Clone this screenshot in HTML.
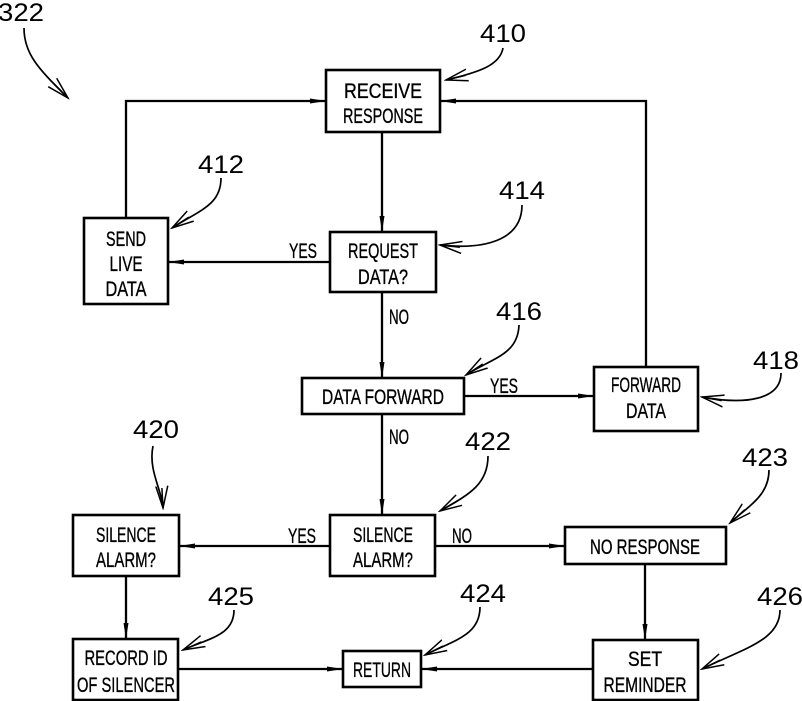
<!DOCTYPE html>
<html><head><meta charset="utf-8"><style>
html,body{margin:0;padding:0;background:#fff;}
svg{display:block;}
text{font-family:"Liberation Sans",sans-serif;fill:#000;}
.b{font-size:21px;stroke:#000;stroke-width:0.35;}
.n{font-size:25px;}
</style></head><body>
<svg width="802" height="701" viewBox="0 0 802 701" xmlns="http://www.w3.org/2000/svg">
<defs>
<marker id="f" markerWidth="16" markerHeight="8" refX="16" refY="4" orient="auto" markerUnits="userSpaceOnUse">
<path d="M0,1.5 L16,4 L0,6.5 Z" fill="#000"/></marker>
<marker id="o" markerWidth="24" markerHeight="14" refX="22" refY="7" orient="auto" markerUnits="userSpaceOnUse">
<path d="M0,1 L22,7 L0,13 M2,7 L22,7" fill="none" stroke="#000" stroke-width="1.5"/></marker>
</defs>
<g fill="none" stroke="#000" stroke-width="2.6">
<rect x="326" y="70" width="114" height="62"/>
<rect x="84" y="218" width="84" height="86"/>
<rect x="330" y="232" width="106" height="60"/>
<rect x="302" y="378" width="162" height="36"/>
<rect x="594" y="367" width="104" height="64"/>
<rect x="73" y="515" width="106" height="61"/>
<rect x="330" y="515" width="105" height="61"/>
<rect x="565" y="527" width="161" height="37"/>
<rect x="73" y="639" width="105" height="61"/>
<rect x="343" y="651" width="78" height="36"/>
<rect x="593" y="640" width="105" height="60"/>
</g>
<g fill="none" stroke="#000" stroke-width="2.3">
<path d="M126,218 V101 H326" marker-end="url(#f)"/>
<path d="M646,367 V101 H440" marker-end="url(#f)"/>
<path d="M382,132 V232" marker-end="url(#f)"/>
<path d="M330,262 H168" marker-end="url(#f)"/>
<path d="M382,292 V378" marker-end="url(#f)"/>
<path d="M464,396 H594" marker-end="url(#f)"/>
<path d="M382,414 V515" marker-end="url(#f)"/>
<path d="M330,546 H179" marker-end="url(#f)"/>
<path d="M435,546 H565" marker-end="url(#f)"/>
<path d="M126,576 V639" marker-end="url(#f)"/>
<path d="M645,564 V640" marker-end="url(#f)"/>
<path d="M178,669 H343" marker-end="url(#f)"/>
<path d="M593,669 H421" marker-end="url(#f)"/>
</g>
<g fill="none" stroke="#000" stroke-width="1.7">
<path d="M24,28 C24,55 40,70 68,98" marker-end="url(#o)"/>
<path d="M503,48 C500,65 480,72 446,80" marker-end="url(#o)"/>
<path d="M221,178 C221,205 200,210 172,228" marker-end="url(#o)"/>
<path d="M522,205 C522,240 485,250 440,245" marker-end="url(#o)"/>
<path d="M519,325 C518,355 492,358 466,375" marker-end="url(#o)"/>
<path d="M781,373 C781,400 745,405 702,397" marker-end="url(#o)"/>
<path d="M153,446 C148,470 162,490 163,508" marker-end="url(#o)"/>
<path d="M488,456 C488,485 468,495 440,511" marker-end="url(#o)"/>
<path d="M769,470 C769,495 750,505 730,523" marker-end="url(#o)"/>
<path d="M234,610 C234,635 210,638 183,650" marker-end="url(#o)"/>
<path d="M480,607 C480,635 455,640 425,655" marker-end="url(#o)"/>
<path d="M780,610 C780,640 745,648 702,669" marker-end="url(#o)"/>
</g>
<g class="b" text-anchor="middle">
<text x="383" y="98" textLength="78" lengthAdjust="spacingAndGlyphs">RECEIVE</text>
<text x="383" y="123" textLength="80" lengthAdjust="spacingAndGlyphs">RESPONSE</text>
<text x="126" y="246" textLength="40" lengthAdjust="spacingAndGlyphs">SEND</text>
<text x="126" y="271" textLength="33" lengthAdjust="spacingAndGlyphs">LIVE</text>
<text x="126" y="296" textLength="41" lengthAdjust="spacingAndGlyphs">DATA</text>
<text x="383" y="258" textLength="70" lengthAdjust="spacingAndGlyphs">REQUEST</text>
<text x="383" y="284" textLength="50" lengthAdjust="spacingAndGlyphs">DATA?</text>
<text x="383" y="404" textLength="122" lengthAdjust="spacingAndGlyphs">DATA FORWARD</text>
<text x="646" y="392" textLength="70" lengthAdjust="spacingAndGlyphs">FORWARD</text>
<text x="646" y="418" textLength="40" lengthAdjust="spacingAndGlyphs">DATA</text>
<text x="126" y="542" textLength="60" lengthAdjust="spacingAndGlyphs">SILENCE</text>
<text x="126" y="567" textLength="60" lengthAdjust="spacingAndGlyphs">ALARM?</text>
<text x="383" y="542" textLength="60" lengthAdjust="spacingAndGlyphs">SILENCE</text>
<text x="383" y="567" textLength="60" lengthAdjust="spacingAndGlyphs">ALARM?</text>
<text x="645" y="554" textLength="110" lengthAdjust="spacingAndGlyphs">NO RESPONSE</text>
<text x="126" y="665" textLength="83" lengthAdjust="spacingAndGlyphs">RECORD ID</text>
<text x="126" y="692" textLength="98" lengthAdjust="spacingAndGlyphs">OF SILENCER</text>
<text x="382" y="677" textLength="58" lengthAdjust="spacingAndGlyphs">RETURN</text>
<text x="645" y="666" textLength="34" lengthAdjust="spacingAndGlyphs">SET</text>
<text x="645" y="692" textLength="83" lengthAdjust="spacingAndGlyphs">REMINDER</text>
</g>
<g class="b">
<text x="289" y="258" textLength="28" lengthAdjust="spacingAndGlyphs">YES</text>
<text x="389" y="324" textLength="20" lengthAdjust="spacingAndGlyphs">NO</text>
<text x="490" y="393" textLength="28" lengthAdjust="spacingAndGlyphs">YES</text>
<text x="389" y="444" textLength="20" lengthAdjust="spacingAndGlyphs">NO</text>
<text x="288" y="543" textLength="28" lengthAdjust="spacingAndGlyphs">YES</text>
<text x="452" y="543" textLength="20" lengthAdjust="spacingAndGlyphs">NO</text>
</g>
<g class="n">
<text x="-2" y="21" textLength="46" lengthAdjust="spacingAndGlyphs">322</text>
<text x="480" y="42" textLength="46" lengthAdjust="spacingAndGlyphs">410</text>
<text x="198" y="173" textLength="46" lengthAdjust="spacingAndGlyphs">412</text>
<text x="499" y="199" textLength="46" lengthAdjust="spacingAndGlyphs">414</text>
<text x="496" y="320" textLength="46" lengthAdjust="spacingAndGlyphs">416</text>
<text x="753" y="369" textLength="46" lengthAdjust="spacingAndGlyphs">418</text>
<text x="133" y="438" textLength="46" lengthAdjust="spacingAndGlyphs">420</text>
<text x="465" y="450" textLength="46" lengthAdjust="spacingAndGlyphs">422</text>
<text x="742" y="466" textLength="46" lengthAdjust="spacingAndGlyphs">423</text>
<text x="208" y="605" textLength="46" lengthAdjust="spacingAndGlyphs">425</text>
<text x="460" y="602" textLength="46" lengthAdjust="spacingAndGlyphs">424</text>
<text x="757" y="605" textLength="46" lengthAdjust="spacingAndGlyphs">426</text>
</g>
</svg>
</body></html>
